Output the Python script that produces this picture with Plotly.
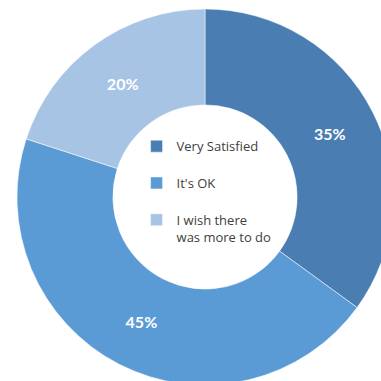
import plotly.graph_objects as go

labels = ["Very Satisfied<br> ", "It's OK<br> ", "I wish there<br>was more to do"]
values = [35, 45, 20]
colors = ["#4A7EB3", "#5B9BD5", "#A8C4E4"]

fig = go.Figure(
    go.Pie(
        labels=labels,
        values=values,
        hole=0.49,
        sort=False,
        direction="clockwise",
        rotation=0,
        marker=dict(colors=colors, line=dict(color="white", width=0.5)),
        texttemplate="%{percent:.0%}",
        textposition="inside",
        insidetextorientation="horizontal",
        textfont=dict(family="Lato", size=16, color="white", weight="bold"),
        showlegend=True,
    )
)

fig.update_layout(
    width=393,
    height=385,
    autosize=False,
    margin=dict(l=17, t=9, r=0, b=0, pad=0),
    paper_bgcolor="white",
    plot_bgcolor="white",
    font=dict(family="Lato", color="#404040"),
    legend=dict(
        x=0.318,
        y=0.675,
        xanchor="left",
        yanchor="top",
        bgcolor="rgba(0,0,0,0)",
        font=dict(family="Open Sans", size=13, color="#404040"),
        valign="top",
    ),
)

fig.write_html(
    "out.html",
    config={"displayModeBar": False},
    post_script="document.body.style.margin='0';document.body.style.overflow='hidden';",
)
